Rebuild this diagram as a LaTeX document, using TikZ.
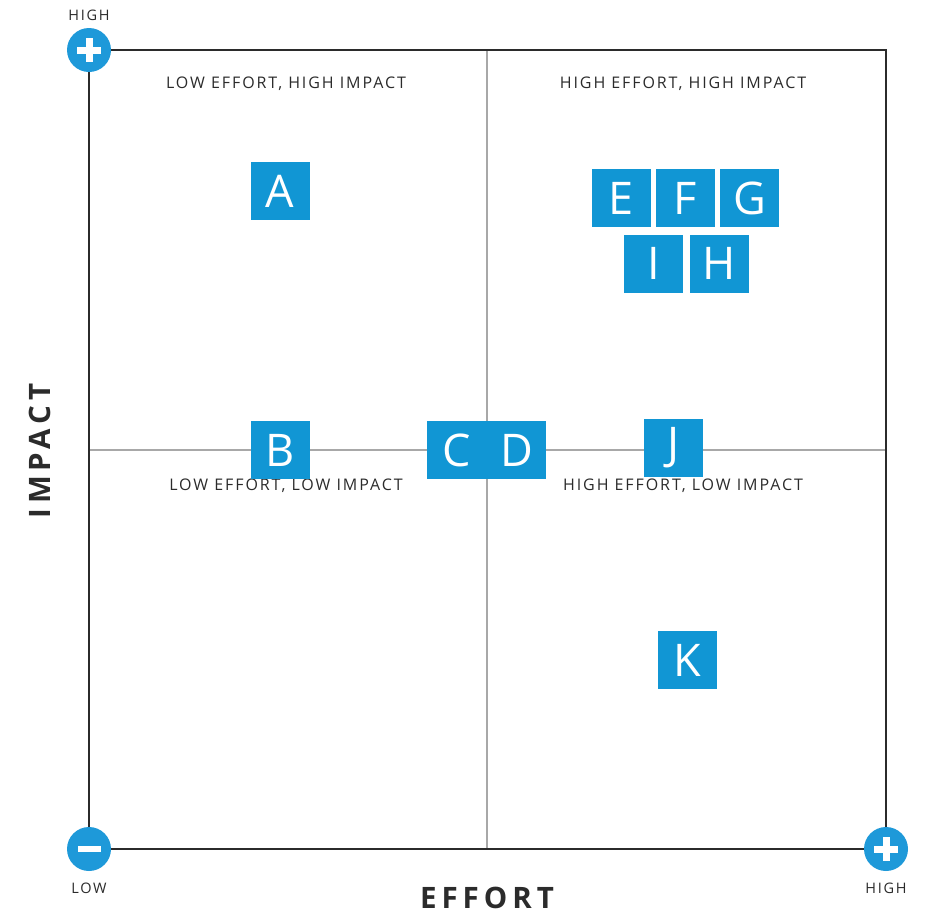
\documentclass[tikz,border=0pt]{standalone}
\usepackage{fontspec}
\usetikzlibrary{calc}
\setmainfont{Open Sans}
\newfontfamily\labelfont[LetterSpace=12]{Open Sans}
\newfontfamily\axisfont[LetterSpace=17]{Open Sans}
\definecolor{itemblue}{HTML}{1196D4}
\definecolor{dotblue}{HTML}{1E99D9}
\definecolor{inkdark}{HTML}{2B2B2B}
\definecolor{midgray}{HTML}{A8A8A8}
\begin{document}
\begin{tikzpicture}[x=1pt,y=-1pt,
  item/.style={fill=itemblue,text=white,minimum width=59pt,minimum height=58pt,inner sep=0pt,font=\fontsize{45}{45}\selectfont},
  quad/.style={text=inkdark,font=\labelfont\fontsize{16}{18}\selectfont,inner sep=0pt},
  tick/.style={text=inkdark,font=\labelfont\fontsize{14.5}{16}\selectfont,inner sep=0pt},
  axis/.style={text=inkdark,font=\axisfont\bfseries\fontsize{29.5}{32}\selectfont,inner sep=0pt},
  dot/.style={circle,fill=dotblue,minimum size=44pt,inner sep=0pt}]
\useasboundingbox (0,0) rectangle (925,914);
\fill[white] (0,0) rectangle (925,914);
% quadrant dividers
\draw[midgray,line width=1.6pt] (487,50) -- (487,849);
\draw[midgray,line width=1.6pt] (89,450) -- (886,450);
% frame
\draw[inkdark,line width=1.8pt] (89,50) rectangle (886,849);
% corner markers
\node[dot] (hiy) at (89,50) {};
\node[dot] (lo) at (89,849) {};
\node[dot] (hix) at (886,849) {};
\foreach \c in {hiy,hix}{
  \fill[white] ($(\c)+(-12,-3.5)$) rectangle ($(\c)+(12,3.5)$);
  \fill[white] ($(\c)+(-3.5,-12)$) rectangle ($(\c)+(3.5,12)$);
}
\fill[white] ($(lo)+(-11.5,-3)$) rectangle ($(lo)+(11.5,3)$);
% tick labels
\node[tick] (thiy) at (89,15) {HIGH};
\node[tick] (tlo) at (89,888) {LOW};
\node[tick] (thix) at (886,888) {HIGH};
% axis titles
\node[axis] (ex) at (487,898) {EFFORT};
\node[axis,rotate=90] (ey) at (40,451) {IMPACT};
% quadrant titles
\node[quad] (q1) at (286,84) {LOW EFFORT, HIGH IMPACT};
\node[quad] (q2) at (683,84) {HIGH EFFORT, HIGH IMPACT};
\node[quad] (q3) at (286,485.5) {LOW EFFORT, LOW IMPACT};
\node[quad] (q4) at (683,485.5) {HIGH EFFORT, LOW IMPACT};
% items
\node[item] (A) at (280,191) {A};
\node[item] (E) at (621.5,198) {E};
\node[item] (F) at (685.5,198) {F};
\node[item] (G) at (749.5,198) {G};
\node[item] (I) at (653.5,263.5) {I};
\node[item] (H) at (719.5,263.5) {H};
\node[item] (B) at (280,450) {B};
\node[item,minimum width=61pt] (C) at (457,450) {C};
\node[item] (D) at (516.5,450) {D};
\node[item] (J) at (673.5,448) {J};
\node[item] (K) at (687.5,660) {K};
\end{tikzpicture}
\end{document}
